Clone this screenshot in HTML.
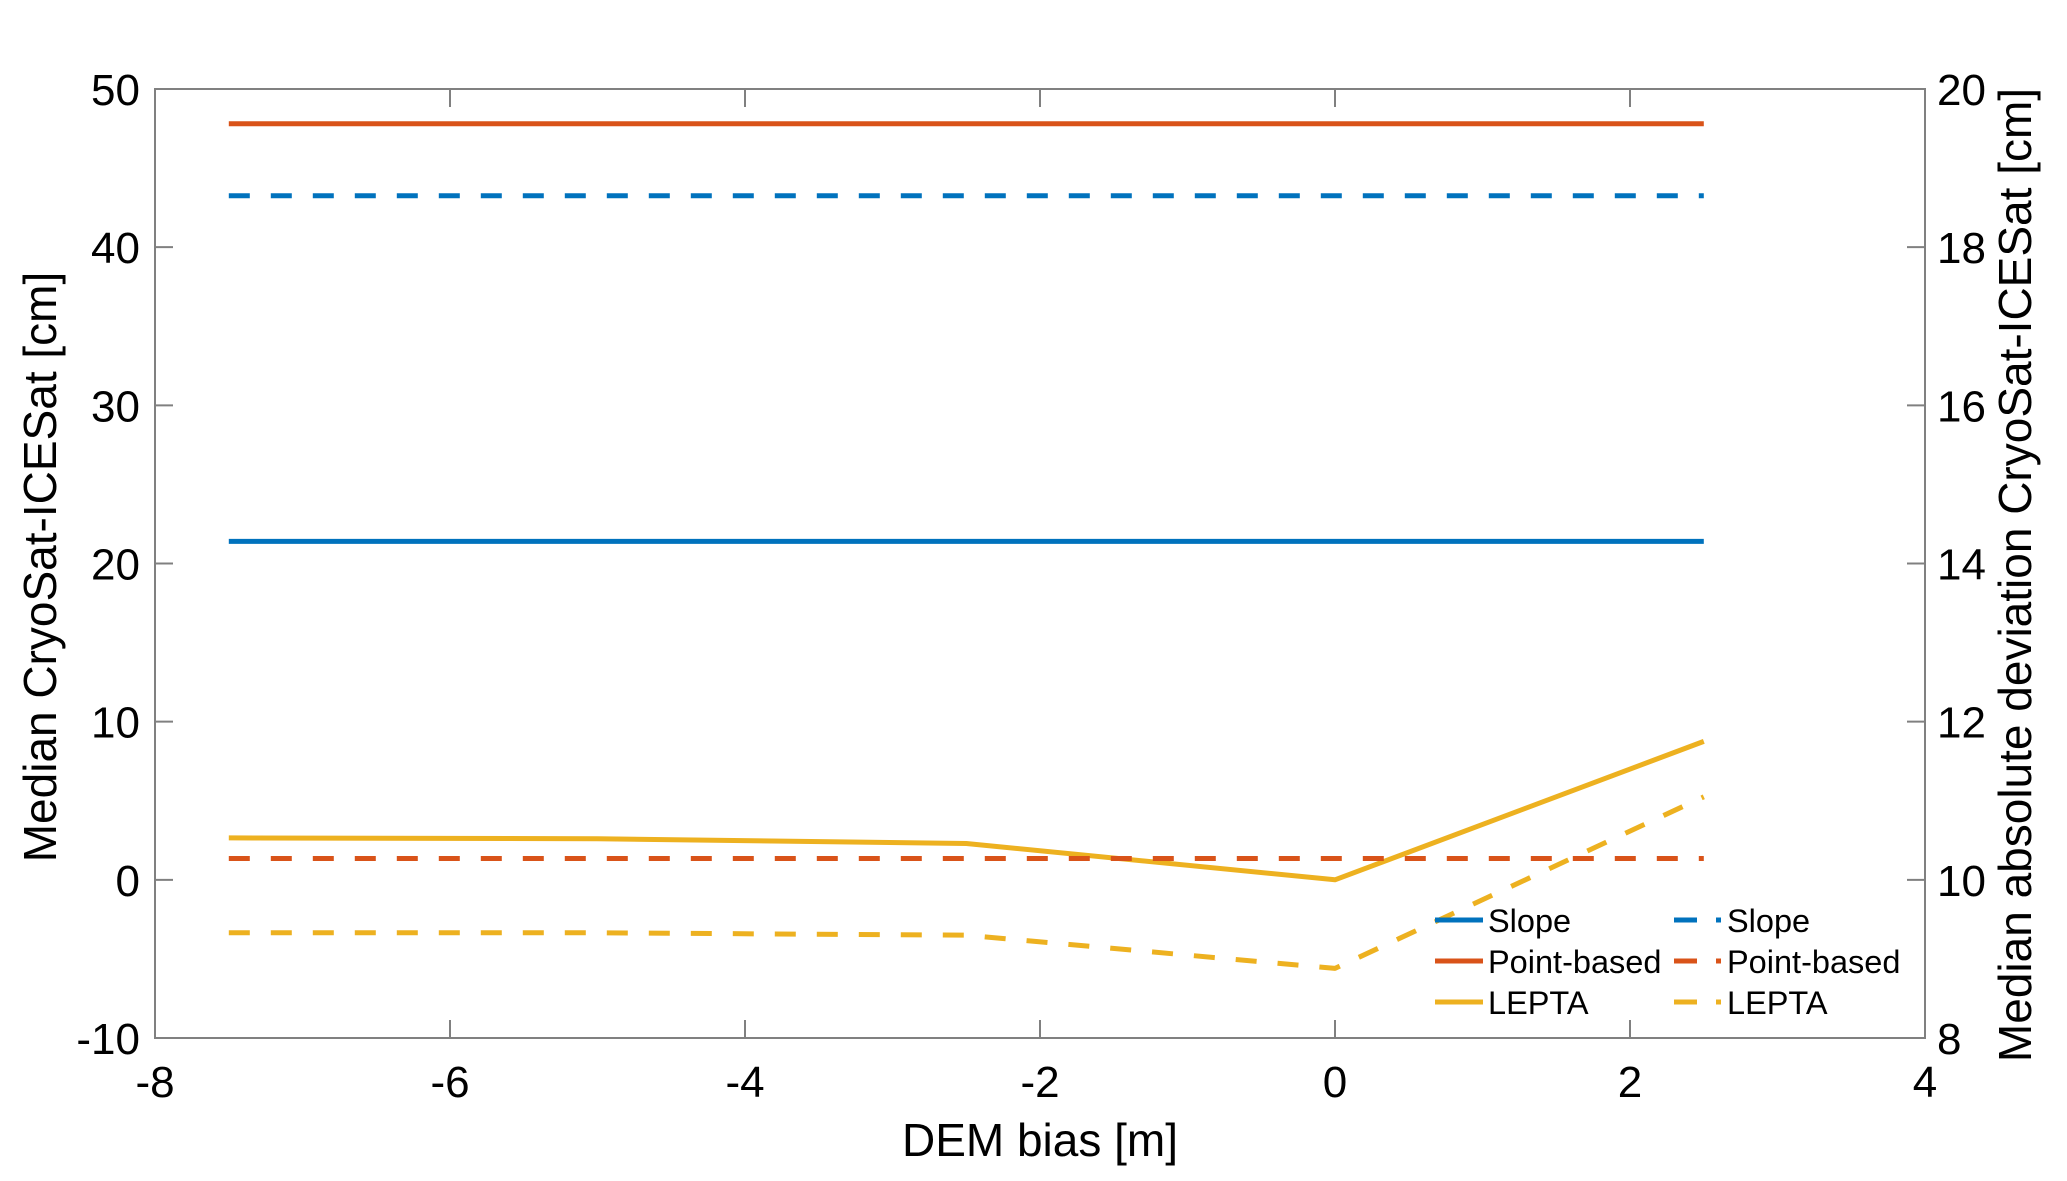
<!DOCTYPE html>
<html><head><meta charset="utf-8"><style>
html,body{margin:0;padding:0;background:#fff;}
svg{display:block;font-family:"Liberation Sans",Arial,sans-serif;}
</style></head><body>
<svg id="chart" width="2067" height="1181" viewBox="0 0 2067 1181">
<rect x="0" y="0" width="2067" height="1181" fill="#fff"/>
<g id="series"></g>
<g id="axes"></g>
<g id="legend"></g>
</svg>
<script>
const xVals = [-7.5, -5, -2.5, 0, 2.5];
const slopeMedian = [21.4, 21.4, 21.4, 21.4, 21.4];
const pointMedian = [47.8, 47.8, 47.8, 47.8, 47.8];
const leptaMedian = [2.65, 2.6, 2.3, 0, 8.75];
const slopeMad = [18.65, 18.65, 18.65, 18.65, 18.65];
const pointMad = [10.27, 10.27, 10.27, 10.27, 10.27];
const leptaMad = [9.33, 9.33, 9.3, 8.88, 11.05];
const xTicks = [-8, -6, -4, -2, 0, 2, 4];
const yLeftTicks = [-10, 0, 10, 20, 30, 40, 50];
const yRightTicks = [8, 10, 12, 14, 16, 18, 20];
const legendLabels = ["Slope", "Point-based", "LEPTA"];

const NS = "http://www.w3.org/2000/svg";
const L = 155, R = 1925, T = 89, B = 1038;
const sx = v => L + (v - (-8)) / 12 * (R - L);
const syL = v => B - (v - (-10)) / 60 * (B - T);
const syR = v => B - (v - 8) / 12 * (B - T);
const colors = ["#0072BD", "#D95319", "#EDB120"];

function mk(tag, attrs, parent) {
  const e = document.createElementNS(NS, tag);
  for (const k in attrs) e.setAttribute(k, attrs[k]);
  parent.appendChild(e);
  return e;
}
const series = document.getElementById("series");
const axes = document.getElementById("axes");
const legend = document.getElementById("legend");

function drawLine(vals, sy, color, dashed, name) {
  const pts = xVals.map((x, i) => sx(x).toFixed(1) + "," + sy(vals[i]).toFixed(1)).join(" ");
  const p = mk("polyline", {points: pts, fill: "none", stroke: color, "stroke-width": 5, "stroke-linejoin": "round"}, series);
  if (dashed) p.setAttribute("stroke-dasharray", "21 21");
  
  
}
drawLine(slopeMedian, syL, colors[0], false, "slope-median-line");
drawLine(pointMedian, syL, colors[1], false, "point-based-median-line");
drawLine(leptaMedian, syL, colors[2], false, "lepta-median-line");
drawLine(slopeMad, syR, colors[0], true, "slope-mad-line");
drawLine(pointMad, syR, colors[1], true, "point-based-mad-line");
drawLine(leptaMad, syR, colors[2], true, "lepta-mad-line");

const box = mk("rect", {x: L, y: T, width: R - L, height: B - T, fill: "none", stroke: "#808080", "stroke-width": 2}, axes);



xTicks.forEach(v => {
  const x = sx(v);
  mk("line", {x1: x, y1: B, x2: x, y2: B - 18, stroke: "#808080", "stroke-width": 2}, axes);
  mk("line", {x1: x, y1: T, x2: x, y2: T + 18, stroke: "#808080", "stroke-width": 2}, axes);
  const t = mk("text", {x: x, y: 1097, "font-size": 44, "text-anchor": "middle", fill: "#000"}, axes);
  t.textContent = v;
  
  
});
yLeftTicks.forEach(v => {
  const y = syL(v);
  mk("line", {x1: L, y1: y, x2: L + 18, y2: y, stroke: "#808080", "stroke-width": 2}, axes);
  const t = mk("text", {x: 140, y: y + 16, "font-size": 44, "text-anchor": "end", fill: "#000"}, axes);
  t.textContent = v;
  
  
});
yRightTicks.forEach(v => {
  const y = syR(v);
  mk("line", {x1: R, y1: y, x2: R - 18, y2: y, stroke: "#808080", "stroke-width": 2}, axes);
  const t = mk("text", {x: 1937, y: y + 16, "font-size": 44, "text-anchor": "start", fill: "#000"}, axes);
  t.textContent = v;
  
  
});
let t = mk("text", {x: (L + R) / 2, y: 1156, "font-size": 46, "text-anchor": "middle", fill: "#000"}, axes);
t.textContent = "DEM bias [m]";


t = mk("text", {x: 0, y: 0, "font-size": 46, "text-anchor": "middle", fill: "#000", transform: "translate(56,567) rotate(-90)"}, axes);
t.textContent = "Median CryoSat-ICESat [cm]";


t = mk("text", {x: 0, y: 0, "font-size": 46, "text-anchor": "middle", fill: "#000", transform: "translate(2031,575) rotate(-90)"}, axes);
t.textContent = "Median absolute deviation CryoSat-ICESat [cm]";



const rowY = [920, 961, 1002];
legendLabels.forEach((lab, i) => {
  const y = rowY[i];
  mk("line", {x1: 1435, y1: y, x2: 1483, y2: y, stroke: colors[i], "stroke-width": 5}, legend);
  let tt = mk("text", {x: 1488, y: y + 12, "font-size": 32.5, fill: "#000"}, legend);
  tt.textContent = lab;
  
  
  mk("line", {x1: 1674, y1: y, x2: 1697, y2: y, stroke: colors[i], "stroke-width": 5}, legend);
  mk("line", {x1: 1716, y1: y, x2: 1721, y2: y, stroke: colors[i], "stroke-width": 5}, legend);
  tt = mk("text", {x: 1727, y: y + 12, "font-size": 32.5, fill: "#000"}, legend);
  tt.textContent = lab;
  
  
});
</script>
</body></html>
